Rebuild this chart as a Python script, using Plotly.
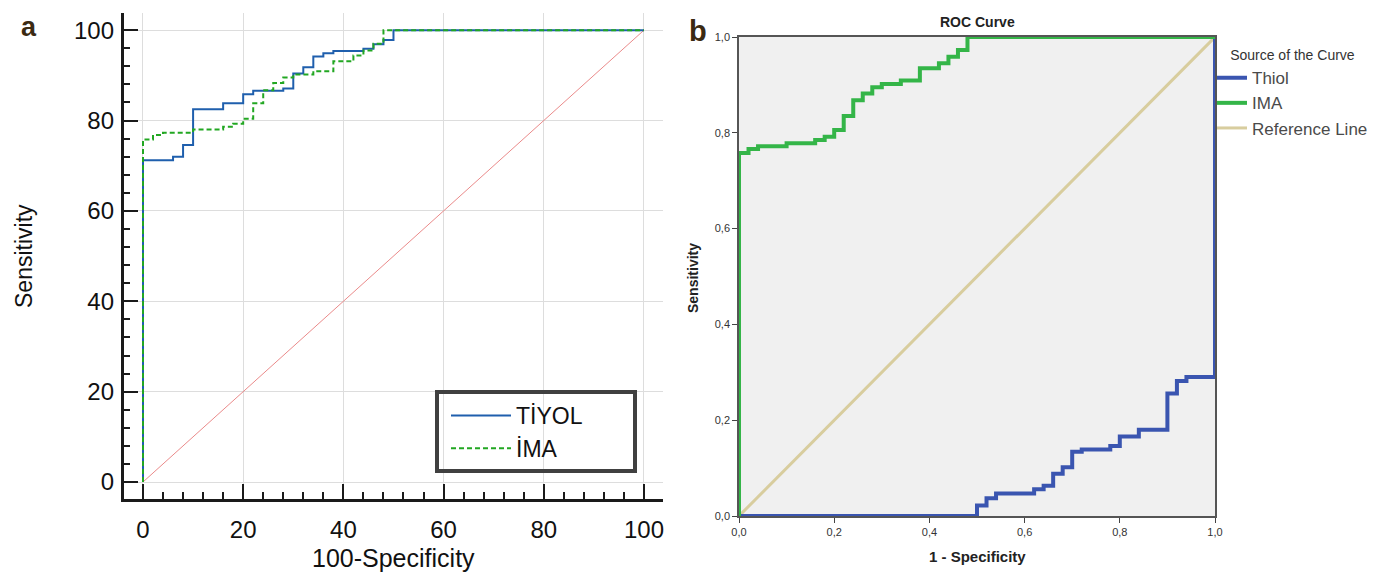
import plotly.graph_objects as go

# ---------------- Panel a data (scale 0-100) ----------------
tiyol_x = [0, 0, 6, 8, 10, 16, 20, 22, 28, 30, 32, 34, 36, 38, 44, 46, 48, 50, 100]
tiyol_y = [0, 71.2, 72.0, 74.6, 82.5, 83.8, 85.8, 86.6, 87.1, 90.4, 91.8, 94.2, 94.9, 95.4, 95.9, 96.9, 97.8, 100, 100]

ima_a_x = [0, 0, 2, 4, 10, 16, 18, 20, 22, 24, 26, 28, 30, 34, 38, 42, 44, 46, 48, 100]
ima_a_y = [0, 75.8, 76.8, 77.3, 78.0, 78.6, 79.3, 80.4, 83.8, 86.7, 88.3, 89.5, 90.2, 90.9, 93.1, 94.4, 95.5, 97.0, 100, 100]

ref_a = [0, 100]

# ---------------- Panel b data (scale 0-1) ----------------
thiol_b_x = [0, 0.50, 0.52, 0.54, 0.62, 0.64, 0.66, 0.68, 0.70, 0.72, 0.78, 0.80, 0.84, 0.90, 0.92, 0.94, 1.0, 1.0]
thiol_b_y = [0, 0.022, 0.037, 0.047, 0.056, 0.063, 0.088, 0.102, 0.134, 0.139, 0.146, 0.166, 0.180, 0.256, 0.282, 0.290, 0.290, 1.0]

ima_b_x = [0, 0, 0.02, 0.04, 0.10, 0.16, 0.18, 0.20, 0.22, 0.24, 0.26, 0.28, 0.30, 0.34, 0.38, 0.42, 0.44, 0.46, 0.48, 1.0]
ima_b_y = [0, 0.758, 0.766, 0.772, 0.778, 0.785, 0.792, 0.806, 0.835, 0.868, 0.882, 0.895, 0.902, 0.909, 0.935, 0.945, 0.959, 0.973, 1.0, 1.0]

ref_b = [0, 1]

W, H = 1375, 574
FONT = "Liberation Sans, Arial, Helvetica, sans-serif"


def px_x(p):
    return p / W


def px_y(p):
    return 1 - p / H


def label(text, x, y, size, color, angle=0):
    return dict(text=text, x=px_x(x), y=px_y(y), xref="paper", yref="paper",
                xanchor="center", yanchor="middle", showarrow=False, textangle=angle,
                font=dict(family=FONT, size=size, color=color))


fig = go.Figure()

# ---- panel a ----
fig.add_trace(go.Scatter(x=ref_a, y=ref_a, mode="lines", xaxis="x", yaxis="y",
                         line=dict(color="#ea8a8a", width=1), showlegend=False, hoverinfo="skip"))
fig.add_trace(go.Scatter(x=tiyol_x, y=tiyol_y, mode="lines", xaxis="x", yaxis="y",
                         name="TİYOL", legend="legend",
                         line=dict(color="#1f5fad", width=2, shape="hv")))
fig.add_trace(go.Scatter(x=ima_a_x, y=ima_a_y, mode="lines", xaxis="x", yaxis="y",
                         name="İMA", legend="legend",
                         line=dict(color="#22a722", width=2, shape="hv", dash="5px,3px")))

# ---- panel b ----
fig.add_trace(go.Scatter(x=ref_b, y=ref_b, mode="lines", xaxis="x2", yaxis="y2",
                         name="Reference Line", legend="legend2", legendrank=3,
                         line=dict(color="#d8cd9e", width=3)))
fig.add_trace(go.Scatter(x=thiol_b_x, y=thiol_b_y, mode="lines", xaxis="x2", yaxis="y2",
                         name="Thiol", legend="legend2", legendrank=1,
                         line=dict(color="#3a55b0", width=4, shape="hv")))
fig.add_trace(go.Scatter(x=ima_b_x, y=ima_b_y, mode="lines", xaxis="x2", yaxis="y2",
                         name="IMA", legend="legend2", legendrank=2,
                         line=dict(color="#34b548", width=4, shape="hv")))

axis_a_common = dict(
    showline=True, linecolor="#1a1a1a", linewidth=2.5,
    ticks="inside", ticklen=15, tickwidth=2, tickcolor="#1a1a1a",
    showgrid=True, gridcolor="#dddddd", gridwidth=1, zeroline=False,
    tickmode="linear", tick0=0, dtick=20,
    tickfont=dict(family=FONT, size=24, color="#111111"),
    minor=dict(ticks="inside", ticklen=7, tickwidth=1.5, tickcolor="#1a1a1a",
               tick0=0, dtick=4, showgrid=False),
    automargin=False, fixedrange=True,
)

axis_b_common = dict(
    showline=True, linecolor="#555555", linewidth=1.5, mirror=True,
    ticks="outside", ticklen=5, tickwidth=1, tickcolor="#444444",
    showgrid=False, zeroline=False, range=[0, 1],
    tickmode="linear", tick0=0, dtick=0.2, tickformat=".1f",
    tickfont=dict(family=FONT, size=11, color="#333333"),
    automargin=False, fixedrange=True,
)

fig.update_layout(
    template="none",
    width=W, height=H, autosize=False,
    margin=dict(l=0, r=0, t=0, b=0),
    paper_bgcolor="white", plot_bgcolor="rgba(0,0,0,0)",
    separators=", ",
    font=dict(family=FONT, color="#222222"),
    xaxis=dict(axis_a_common, domain=[px_x(123.6), px_x(663)], range=[-3.87, 103.8],
               anchor="y", ticklabelstandoff=8),
    yaxis=dict(axis_a_common, domain=[px_y(498.6), px_y(13)], range=[-3.67, 103.8],
               anchor="x", ticklabelstandoff=2),
    xaxis2=dict(axis_b_common, domain=[px_x(739), px_x(1215)], anchor="y2"),
    yaxis2=dict(axis_b_common, domain=[px_y(516), px_y(37)], anchor="x2"),
    legend=dict(x=px_x(446), y=px_y(394), xanchor="left", yanchor="top",
                bgcolor="rgba(0,0,0,0)", borderwidth=0, itemwidth=60,
                font=dict(family=FONT, size=23, color="#111111"),
                tracegroupgap=0),
    legend2=dict(x=px_x(1212), y=px_y(42), xanchor="left", yanchor="top",
                 bgcolor="rgba(0,0,0,0)", borderwidth=0, itemwidth=30,
                 font=dict(family=FONT, size=17, color="#4a4a4a"),
                 title=dict(text="Source of the Curve", side="top center",
                            font=dict(family=FONT, size=14, color="#333333"))),
    shapes=[
        # grey background of panel b
        dict(type="rect", xref="x2 domain", yref="y2 domain", x0=0, x1=1, y0=0, y1=1,
             fillcolor="#f0f0f0", line=dict(width=0), layer="below"),
        # legend frame panel a
        dict(type="rect", xref="paper", yref="paper",
             x0=px_x(437), x1=px_x(635), y0=px_y(471), y1=px_y(392),
             line=dict(color="#404040", width=4), fillcolor="rgba(0,0,0,0)", layer="above"),
    ],
    annotations=[
        label("<b>a</b>", 29, 27, 27, "#3b2a12"),
        label("<b>b</b>", 698, 31, 29, "#3b2a12"),
        label("Sensitivity", 24, 256, 23, "#111111", -90),
        label("100-Specificity", 393, 558, 25, "#111111"),
        label("<b>ROC Curve</b>", 977, 22, 14, "#222222"),
        label("<b>1 - Specificity</b>", 977, 556, 15, "#222222"),
        label("<b>Sensitivity</b>", 693, 278, 14, "#222222", -90),
    ],
)

fig.write_html("out.html", config={"displayModeBar": False},
               post_script="document.body.style.margin='0px';")
